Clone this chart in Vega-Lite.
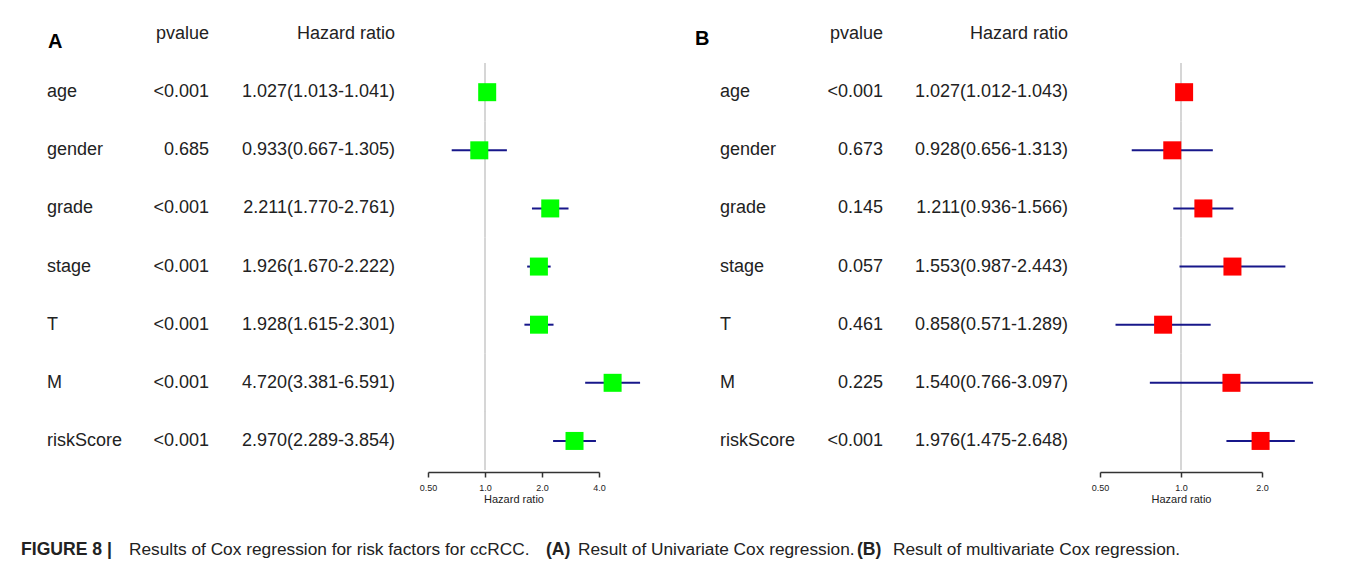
{
  "$schema": "https://vega.github.io/schema/vega-lite/v6.json",
  "padding": {"left": 8, "top": 5, "right": 0, "bottom": 0},
  "background": "white",
  "config": {
    "view": {"stroke": null},
    "font": "Liberation Sans",
    "text": {"font": "Liberation Sans", "fontSize": 18, "color": "#222222"}
  },
  "datasets": {
    "A": [
      {"var": "age", "p": "<0.001", "hr": "1.027(1.013-1.041)", "est": 1.027, "lo": 1.013, "hi": 1.041},
      {"var": "gender", "p": "0.685", "hr": "0.933(0.667-1.305)", "est": 0.933, "lo": 0.667, "hi": 1.305},
      {"var": "grade", "p": "<0.001", "hr": "2.211(1.770-2.761)", "est": 2.211, "lo": 1.770, "hi": 2.761},
      {"var": "stage", "p": "<0.001", "hr": "1.926(1.670-2.222)", "est": 1.926, "lo": 1.670, "hi": 2.222},
      {"var": "T", "p": "<0.001", "hr": "1.928(1.615-2.301)", "est": 1.928, "lo": 1.615, "hi": 2.301},
      {"var": "M", "p": "<0.001", "hr": "4.720(3.381-6.591)", "est": 4.720, "lo": 3.381, "hi": 6.591},
      {"var": "riskScore", "p": "<0.001", "hr": "2.970(2.289-3.854)", "est": 2.970, "lo": 2.289, "hi": 3.854}
    ],
    "B": [
      {"var": "age", "p": "<0.001", "hr": "1.027(1.012-1.043)", "est": 1.027, "lo": 1.012, "hi": 1.043},
      {"var": "gender", "p": "0.673", "hr": "0.928(0.656-1.313)", "est": 0.928, "lo": 0.656, "hi": 1.313},
      {"var": "grade", "p": "0.145", "hr": "1.211(0.936-1.566)", "est": 1.211, "lo": 0.936, "hi": 1.566},
      {"var": "stage", "p": "0.057", "hr": "1.553(0.987-2.443)", "est": 1.553, "lo": 0.987, "hi": 2.443},
      {"var": "T", "p": "0.461", "hr": "0.858(0.571-1.289)", "est": 0.858, "lo": 0.571, "hi": 1.289},
      {"var": "M", "p": "0.225", "hr": "1.540(0.766-3.097)", "est": 1.540, "lo": 0.766, "hi": 3.097},
      {"var": "riskScore", "p": "<0.001", "hr": "1.976(1.475-2.648)", "est": 1.976, "lo": 1.475, "hi": 2.648}
    ],
    "ref": [
      {"var": "age", "ref": 1},
      {"var": "gender", "ref": 1},
      {"var": "grade", "ref": 1},
      {"var": "stage", "ref": 1},
      {"var": "T", "ref": 1},
      {"var": "M", "ref": 1},
      {"var": "riskScore", "ref": 1}
    ],
    "caption": [
      {"a": "FIGURE 8 |", "b": "Results of Cox regression for risk factors for ccRCC.", "c": "(A)", "d": "Result of Univariate Cox regression.", "e": "(B)", "f": "Result of multivariate Cox regression."}
    ]
  },
  "hconcat": [
    {
      "width": 129, "height": 465,
      "layer": [
        {
          "data": {"name": "A"},
          "mark": {"type": "text", "align": "left", "dx": 39},
          "encoding": {
            "x": {"value": 0},
            "y": {"field": "var", "type": "nominal", "sort": null, "axis": null,
                  "scale": {"type": "band", "domain": ["hdr", "age", "gender", "grade", "stage", "T", "M", "riskScore"], "paddingInner": 0, "paddingOuter": 0}},
            "text": {"field": "var"}
          }
        },
        {
          "data": {"values": [{"var": "hdr", "t": "A"}]},
          "mark": {"type": "text", "align": "left", "dx": 40, "dy": 8, "fontWeight": "bold", "fontSize": 20, "color": "#000000"},
          "encoding": {
            "x": {"value": 0},
            "y": {"field": "var", "type": "nominal", "sort": null, "axis": null},
            "text": {"field": "t"}
          }
        },
        {"data": {"name": "caption"},
         "mark": {"type": "text", "fontWeight": "bold", "align": "left", "baseline": "alphabetic", "dx": 13, "dy": 85, "fontSize": 17.6, "color": "#222222"},
         "encoding": {"x": {"value": 0}, "y": {"value": "height"}, "text": {"field": "a"}}},
        {"data": {"name": "caption"},
         "mark": {"type": "text", "align": "left", "baseline": "alphabetic", "dx": 121, "dy": 85, "fontSize": 17.3, "color": "#222222"},
         "encoding": {"x": {"value": 0}, "y": {"value": "height"}, "text": {"field": "b"}}},
        {"data": {"name": "caption"},
         "mark": {"type": "text", "fontWeight": "bold", "align": "left", "baseline": "alphabetic", "dx": 538, "dy": 85, "fontSize": 17.6, "color": "#222222"},
         "encoding": {"x": {"value": 0}, "y": {"value": "height"}, "text": {"field": "c"}}},
        {"data": {"name": "caption"},
         "mark": {"type": "text", "align": "left", "baseline": "alphabetic", "dx": 570, "dy": 85, "fontSize": 17.3, "color": "#222222"},
         "encoding": {"x": {"value": 0}, "y": {"value": "height"}, "text": {"field": "d"}}},
        {"data": {"name": "caption"},
         "mark": {"type": "text", "fontWeight": "bold", "align": "left", "baseline": "alphabetic", "dx": 849, "dy": 85, "fontSize": 17.6, "color": "#222222"},
         "encoding": {"x": {"value": 0}, "y": {"value": "height"}, "text": {"field": "e"}}},
        {"data": {"name": "caption"},
         "mark": {"type": "text", "align": "left", "baseline": "alphabetic", "dx": 885, "dy": 85, "fontSize": 17.3, "color": "#222222"},
         "encoding": {"x": {"value": 0}, "y": {"value": "height"}, "text": {"field": "f"}}}
      ]
    },
    {
      "width": 72, "height": 465,
      "layer": [
        {
          "data": {"name": "A"},
          "mark": {"type": "text", "align": "right"},
          "encoding": {
            "x": {"value": "width"},
            "y": {"field": "var", "type": "nominal", "sort": null, "axis": null,
                  "scale": {"type": "band", "domain": ["hdr", "age", "gender", "grade", "stage", "T", "M", "riskScore"], "paddingInner": 0, "paddingOuter": 0}},
            "text": {"field": "p"}
          }
        },
        {
          "data": {"values": [{"var": "hdr", "t": "pvalue"}]},
          "mark": {"type": "text", "align": "right"},
          "encoding": {
            "x": {"value": "width"},
            "y": {"field": "var", "type": "nominal", "sort": null, "axis": null},
            "text": {"field": "t"}
          }
        }
      ]
    },
    {
      "width": 219, "height": 465,
      "layer": [
        {
          "data": {"name": "A"},
          "mark": {"type": "text", "align": "right", "dx": -33},
          "encoding": {
            "x": {"value": "width"},
            "y": {"field": "var", "type": "nominal", "sort": null, "axis": null,
                  "scale": {"type": "band", "domain": ["hdr", "age", "gender", "grade", "stage", "T", "M", "riskScore"], "paddingInner": 0, "paddingOuter": 0}},
            "text": {"field": "hr"}
          }
        },
        {
          "data": {"values": [{"var": "hdr", "t": "Hazard ratio"}]},
          "mark": {"type": "text", "align": "right", "dx": -33},
          "encoding": {
            "x": {"value": "width"},
            "y": {"field": "var", "type": "nominal", "sort": null, "axis": null},
            "text": {"field": "t"}
          }
        }
      ]
    },
    {
      "width": 171, "height": 465,
      "layer": [
        {
          "data": {"name": "ref"},
          "mark": {"type": "tick", "color": "#c8c8c8", "thickness": 1.5, "size": 58.3, "opacity": 1},
          "encoding": {
            "x": {"field": "ref", "type": "quantitative",
                  "scale": {"type": "log", "domain": [0.5, 4], "nice": false, "zero": false},
                  "axis": {"values": [0.5, 1, 2, 4], "labelExpr": "datum.value < 0.9 ? '0.50' : format(datum.value, '.1f')",
                           "grid": false, "domainColor": "#333333", "domainWidth": 1.5, "tickColor": "#333333", "tickWidth": 1.5, "tickSize": 5,
                           "labelFontSize": 9, "labelColor": "#222222", "labelPadding": 6, "labelFlush": false,
                           "title": "Hazard ratio", "titleFontSize": 11, "titleFontWeight": "normal", "titleColor": "#222222", "titlePadding": 1, "offset": 2}},
            "y": {"field": "var", "type": "nominal", "sort": null, "axis": null,
                  "scale": {"type": "band", "domain": ["hdr", "age", "gender", "grade", "stage", "T", "M", "riskScore"], "paddingInner": 0, "paddingOuter": 0}}
          }
        },
        {
          "data": {"name": "A"},
          "mark": {"type": "rule", "color": "#17178a", "strokeWidth": 2},
          "encoding": {
            "x": {"field": "lo", "type": "quantitative"},
            "x2": {"field": "hi"},
            "y": {"field": "var", "type": "nominal", "sort": null, "axis": null}
          }
        },
        {
          "data": {"name": "A"},
          "mark": {"type": "square", "size": 324, "filled": true, "opacity": 1, "color": "#00ff00"},
          "encoding": {
            "x": {"field": "est", "type": "quantitative"},
            "y": {"field": "var", "type": "nominal", "sort": null, "axis": null}
          }
        }
      ]
    },
    {
      "width": 212, "height": 465,
      "layer": [
        {
          "data": {"name": "B"},
          "mark": {"type": "text", "align": "left", "dx": 121},
          "encoding": {
            "x": {"value": 0},
            "y": {"field": "var", "type": "nominal", "sort": null, "axis": null,
                  "scale": {"type": "band", "domain": ["hdr", "age", "gender", "grade", "stage", "T", "M", "riskScore"], "paddingInner": 0, "paddingOuter": 0}},
            "text": {"field": "var"}
          }
        },
        {
          "data": {"values": [{"var": "hdr", "t": "B"}]},
          "mark": {"type": "text", "align": "left", "dx": 96, "dy": 5, "fontWeight": "bold", "fontSize": 20, "color": "#000000"},
          "encoding": {
            "x": {"value": 0},
            "y": {"field": "var", "type": "nominal", "sort": null, "axis": null},
            "text": {"field": "t"}
          }
        }
      ]
    },
    {
      "width": 72, "height": 465,
      "layer": [
        {
          "data": {"name": "B"},
          "mark": {"type": "text", "align": "right"},
          "encoding": {
            "x": {"value": "width"},
            "y": {"field": "var", "type": "nominal", "sort": null, "axis": null,
                  "scale": {"type": "band", "domain": ["hdr", "age", "gender", "grade", "stage", "T", "M", "riskScore"], "paddingInner": 0, "paddingOuter": 0}},
            "text": {"field": "p"}
          }
        },
        {
          "data": {"values": [{"var": "hdr", "t": "pvalue"}]},
          "mark": {"type": "text", "align": "right"},
          "encoding": {
            "x": {"value": "width"},
            "y": {"field": "var", "type": "nominal", "sort": null, "axis": null},
            "text": {"field": "t"}
          }
        }
      ]
    },
    {
      "width": 217, "height": 465,
      "layer": [
        {
          "data": {"name": "B"},
          "mark": {"type": "text", "align": "right", "dx": -32},
          "encoding": {
            "x": {"value": "width"},
            "y": {"field": "var", "type": "nominal", "sort": null, "axis": null,
                  "scale": {"type": "band", "domain": ["hdr", "age", "gender", "grade", "stage", "T", "M", "riskScore"], "paddingInner": 0, "paddingOuter": 0}},
            "text": {"field": "hr"}
          }
        },
        {
          "data": {"values": [{"var": "hdr", "t": "Hazard ratio"}]},
          "mark": {"type": "text", "align": "right", "dx": -32},
          "encoding": {
            "x": {"value": "width"},
            "y": {"field": "var", "type": "nominal", "sort": null, "axis": null},
            "text": {"field": "t"}
          }
        }
      ]
    },
    {
      "width": 162, "height": 465,
      "layer": [
        {
          "data": {"name": "ref"},
          "mark": {"type": "tick", "color": "#c8c8c8", "thickness": 1.5, "size": 58.3, "opacity": 1},
          "encoding": {
            "x": {"field": "ref", "type": "quantitative",
                  "scale": {"type": "log", "domain": [0.5, 2], "nice": false, "zero": false},
                  "axis": {"values": [0.5, 1, 2], "labelExpr": "datum.value < 0.9 ? '0.50' : format(datum.value, '.1f')",
                           "grid": false, "domainColor": "#333333", "domainWidth": 1.5, "tickColor": "#333333", "tickWidth": 1.5, "tickSize": 5,
                           "labelFontSize": 9, "labelColor": "#222222", "labelPadding": 6, "labelFlush": false,
                           "title": "Hazard ratio", "titleFontSize": 11, "titleFontWeight": "normal", "titleColor": "#222222", "titlePadding": 1, "offset": 2}},
            "y": {"field": "var", "type": "nominal", "sort": null, "axis": null,
                  "scale": {"type": "band", "domain": ["hdr", "age", "gender", "grade", "stage", "T", "M", "riskScore"], "paddingInner": 0, "paddingOuter": 0}}
          }
        },
        {
          "data": {"name": "B"},
          "mark": {"type": "rule", "color": "#17178a", "strokeWidth": 2},
          "encoding": {
            "x": {"field": "lo", "type": "quantitative"},
            "x2": {"field": "hi"},
            "y": {"field": "var", "type": "nominal", "sort": null, "axis": null}
          }
        },
        {
          "data": {"name": "B"},
          "mark": {"type": "square", "size": 324, "filled": true, "opacity": 1, "color": "#ff0000"},
          "encoding": {
            "x": {"field": "est", "type": "quantitative"},
            "y": {"field": "var", "type": "nominal", "sort": null, "axis": null}
          }
        }
      ]
    }
  ],
  "spacing": 0, "bounds": "flush"
}
